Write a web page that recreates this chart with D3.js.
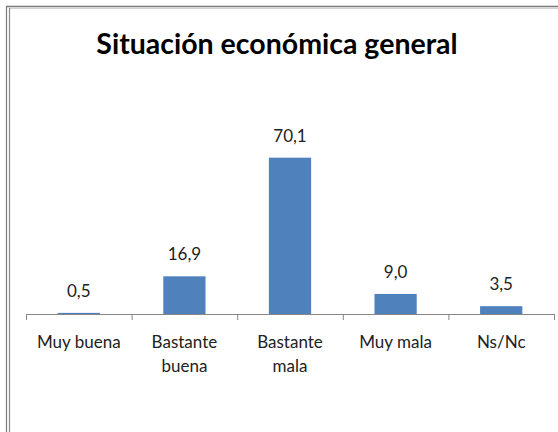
<!DOCTYPE html>
<html>
<head>
<meta charset="utf-8">
<script src="https://cdn.jsdelivr.net/npm/d3@7"></script>
<style>
  body { margin:0; background:#fff; }
  svg { display:block; }
</style>
</head>
<body>
<div class="chart"></div>
<script>
// tamaño del lienzo
var width = 558, height = 432;

var categorias = [["Muy buena"], ["Bastante", "buena"], ["Bastante", "mala"], ["Muy mala"], ["Ns/Nc"]];
var valores = [0.5, 16.9, 70.1, 9.0, 3.5];
var etiquetas = ["0,5", "16,9", "70,1", "9,0", "3,5"];
var titulo = "Situación económica general";

var fuente = "Lato, 'Open Sans', sans-serif";

var svg = d3.select(".chart").append("svg")
    .attr("width", width)
    .attr("height", height);

// marco
svg.append("line").attr("x1", 6).attr("x2", width).attr("y1", 6.5).attr("y2", 6.5)
    .attr("stroke", "#7a7a7a").attr("stroke-width", 1.5);
svg.append("line").attr("x1", 9).attr("x2", width).attr("y1", 8.3).attr("y2", 8.3)
    .attr("stroke", "#c8c8c8").attr("stroke-width", 1);
svg.append("line").attr("x1", 6.5).attr("x2", 6.5).attr("y1", 6).attr("y2", height)
    .attr("stroke", "#7a7a7a").attr("stroke-width", 1.2);
svg.append("line").attr("x1", 9.5).attr("x2", 9.5).attr("y1", 8).attr("y2", height)
    .attr("stroke", "#8a8a8a").attr("stroke-width", 1.2);

// título
svg.append("text")
    .attr("x", 277).attr("y", 54)
    .attr("text-anchor", "middle")
    .style("font-family", fuente)
    .style("font-weight", "bold")
    .style("font-size", "28.5px")
    .attr("fill", "#000")
    .text(titulo);

var idx = d3.range(valores.length);
var x = d3.scaleBand().domain(idx).range([26, 554]).paddingInner(0.6).paddingOuter(0.3);
var xEje = d3.scaleBand().domain(idx).range([26, 554]);
var y = d3.scaleLinear().domain([0, 80]).range([314, 135.6]);

var g = svg.append("g");

g.selectAll(".bar")
    .data(idx)
    .enter().append("rect")
    .attr("class", "bar")
    .attr("x", function (d) { return x(d); })
    .attr("y", function (d) { return y(valores[d]); })
    .attr("width", x.bandwidth())
    .attr("height", function (d) { return y(0) - y(valores[d]); })
    .style("fill", "#4f81bd");

g.selectAll(".valor")
    .data(idx)
    .enter().append("text")
    .attr("class", "valor")
    .attr("x", function (d) { return x(d) + x.bandwidth() / 2; })
    .attr("y", function (d) { return y(valores[d]) - 16; })
    .attr("text-anchor", "middle")
    .style("font-family", fuente)
    .style("font-size", "17px")
    .attr("fill", "#222")
    .text(function (d) { return etiquetas[d]; });

// eje x
var eje = svg.append("g").attr("transform", "translate(0,314)");
eje.append("line").attr("x1", 26).attr("x2", 554).attr("y1", 0.5).attr("y2", 0.5)
    .attr("stroke", "#868686");
var ticks = idx.map(function (d) { return xEje(d); }).concat([554]);
eje.selectAll(".tick")
    .data(ticks)
    .enter().append("line")
    .attr("x1", function (d) { return d + 0.5; })
    .attr("x2", function (d) { return d + 0.5; })
    .attr("y1", 0).attr("y2", 6)
    .attr("stroke", "#868686");

var cat = svg.selectAll(".cat")
    .data(idx)
    .enter().append("text")
    .attr("class", "cat")
    .attr("text-anchor", "middle")
    .style("font-family", fuente)
    .style("font-size", "17px")
    .attr("fill", "#222");
cat.selectAll("tspan")
    .data(function (d) { return categorias[d].map(function (t) { return {t: t, d: d}; }); })
    .enter().append("tspan")
    .attr("x", function (o) { return xEje(o.d) + xEje.bandwidth() / 2; })
    .attr("y", function (o, i) { return 348 + i * 24; })
    .text(function (o) { return o.t; });
</script>
</body>
</html>
